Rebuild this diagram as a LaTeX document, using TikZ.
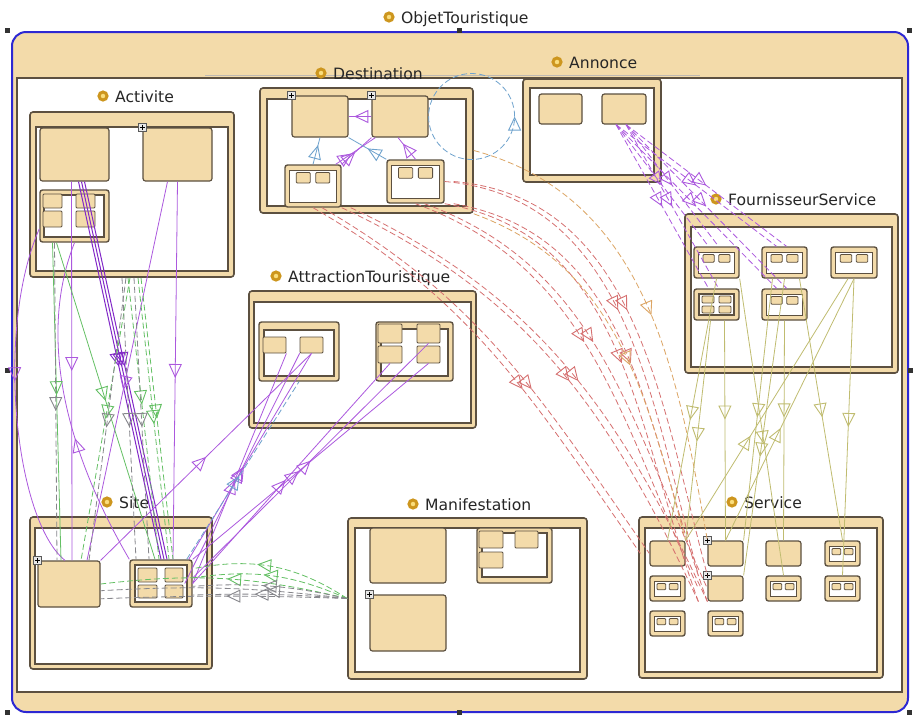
\documentclass[tikz,border=0pt]{standalone}
\usepackage{fontspec}
\setmainfont{DejaVu Sans}
\usetikzlibrary{
	arrows.meta,
	decorations.markings,
	fit
}
\definecolor{Tan}{RGB}{243,219,170}
\definecolor{Edge}{RGB}{92,80,64}
\definecolor{FrameBlue}{RGB}{45,40,210}
\definecolor{Gold}{RGB}{205,150,30}
\definecolor{GoldLt}{RGB}{250,222,125}
\definecolor{Vio}{RGB}{172,88,222}
\definecolor{DarkVio}{RGB}{130,40,200}
\definecolor{Grn}{RGB}{100,192,100}
\definecolor{Gry}{RGB}{135,135,140}
\definecolor{Rd}{RGB}{214,112,112}
\definecolor{Ora}{RGB}{220,165,100}
\definecolor{Oli}{RGB}{192,188,112}
\definecolor{Blu}{RGB}{110,162,205}

\tikzset{
	outer/.style={fill=Tan, draw=FrameBlue, line width=2pt, rounded corners=14pt, inner sep=0pt},
	pkgframe/.style={fill=Tan, draw=Edge, line width=1.6pt, rounded corners=3pt, inner sep=0pt},
	mframe/.style={fill=Tan, draw=Edge, line width=1.4pt, rounded corners=2.5pt, inner sep=0pt},
	pane/.style={fill=white, draw=Edge, line width=1.2pt, inner sep=0pt},
	cls/.style={fill=Tan, draw=Edge, line width=1.2pt, rounded corners=2.5pt, inner sep=0pt},
	slot/.style={fill=Tan, draw=Edge, line width=.8pt, rounded corners=1pt, inner sep=0pt},
	lbl/.style={anchor=base west, inner sep=0pt, text=black!85, font=\fontsize{15.6}{18}\selectfont},
	icon/.style={circle, draw=Gold, line width=3pt, fill=GoldLt, minimum size=8pt, inner sep=0pt},
	plus/.style={draw=black!65, fill=gray!18, line width=.5pt, minimum size=8pt, inner sep=0pt,
		path picture={\draw[black, line width=.7pt]
			([yshift=-1.5pt]path picture bounding box.north) -- ([yshift=1.5pt]path picture bounding box.south)
			([xshift=1.5pt]path picture bounding box.west) -- ([xshift=-1.5pt]path picture bounding box.east);}},
	midtip/.style={postaction={decorate, decoration={markings, mark=at position #1 with
		{\arrow{Triangle[open, length=14pt, width=13pt, line width=.9pt]}}}}},
	dsh/.style={dash pattern=on 6pt off 3pt},
	lnvio/.style={Vio, line width=.8pt},
	lndvio/.style={DarkVio, line width=1pt},
	lngrn/.style={Grn, line width=.8pt},
	lngry/.style={Gry, line width=.8pt},
	lnred/.style={Rd, line width=.8pt},
	lnora/.style={Ora, line width=.8pt},
	lnoli/.style={Oli, line width=.8pt},
	lnblu/.style={Blu, line width=.8pt}
}

% box from corner to corner (pixels, y downwards)
\newcommand{\cbox}[6][cls]{\node[#1, fit={({#3},{#4}) ({#5},{#6})}] (#2) {};}
% package: frame + white pane (top inset, side inset)
\newcommand{\pkg}[7]{%
	\cbox[pkgframe]{#1}{#2}{#3}{#4}{#5}
	\cbox[pane]{#1in}{#2+#7}{#3+#6}{#4-#7}{#5-#7}}
% small nested package with two parts
\newcommand{\minipkg}[5]{%
	\cbox[mframe]{#1}{#2}{#3}{#4}{#5}
	\cbox[pane]{#1in}{#2+4.5}{#3+5.5}{#4-4.5}{#5-4.5}
	\cbox[slot]{#1a}{#2+0.2*(#4-#2)}{#3+7.5}{#2+0.45*(#4-#2)}{#3+7.5+0.25*(#5-#3)}
	\cbox[slot]{#1b}{#2+0.55*(#4-#2)}{#3+7.5}{#2+0.8*(#4-#2)}{#3+7.5+0.25*(#5-#3)}}
% package title with its icon
\newcommand{\plabel}[4]{%
	\node[lbl] (#1) at (#2,#3) {#4};
	\node[icon] (#1i) at ([xshift=-12pt, yshift=6pt]#1.base west) {};}

\begin{document}
\begin{tikzpicture}[x=1pt, y=-1pt]
	\useasboundingbox (0,0) rectangle (913,716);
	
	% ObjetTouristique
	\node[outer, fit={(12,32) (908,712)}] (obj) {};
	\node[pane, fit={(17,78) (902,692)}] (objin) {};
	\draw[Edge!40, line width=.8pt] (205,75) -- (700,75);
	\foreach \x/\y in {7/30, 459/30, 909/30, 7/370, 910/370, 7/712, 459/712, 909/712}
		\fill[black!80] (\x-2.5,\y-2.5) rectangle (\x+2.5,\y+2.5);
	\plabel{lobj}{401}{23}{ObjetTouristique}
	
	% packages
	\pkg{act}{30}{112}{234}{277}{15}{6}
	\pkg{dst}{260}{88}{473}{213}{11}{7}
	\pkg{ann}{523}{79}{661}{182}{9}{7}
	\pkg{fs}{685}{214}{898}{373}{13}{6}
	\pkg{att}{249}{291}{476}{428}{11}{5}
	\pkg{site}{30}{517}{212}{669}{11}{5}
	\pkg{man}{348}{518}{587}{679}{10}{7}
	\pkg{srv}{639}{517}{883}{678}{11}{6}
	
	\plabel{lact}{115}{102}{Activite}
	\plabel{ldst}{333}{79}{Destination}
	\plabel{lann}{569}{68}{Annonce}
	\plabel{lfs}{728}{205}{FournisseurService}
	\plabel{latt}{288}{282}{AttractionTouristique}
	\plabel{lsite}{119}{508}{Site}
	\plabel{lman}{425}{510}{Manifestation}
	\plabel{lsrv}{744}{508}{Service}
	
	% Activite
	\cbox{act1}{40}{128}{109}{181}
	\cbox{act2}{143}{128}{212}{181}
	\cbox[mframe]{act3}{40}{190}{109}{242}
	\cbox[pane]{act3in}{44}{195}{104}{237}
	\cbox[slot]{act3a}{43}{194}{62}{208}
	\cbox[slot]{act3b}{76}{194}{95}{208}
	\cbox[slot]{act3c}{43}{211}{62}{227}
	\cbox[slot]{act3d}{76}{211}{95}{227}
	
	% Destination
	\cbox{dst1}{292}{96}{348}{137}
	\cbox{dst2}{372}{96}{428}{137}
	\minipkg{dst3}{285}{165}{341}{207}
	\minipkg{dst4}{387}{160}{444}{203}
	
	% Annonce
	\cbox{ann1}{539}{94}{582}{124}
	\cbox{ann2}{602}{94}{646}{124}
	
	% FournisseurService
	\minipkg{fs1}{694}{247}{739}{278}
	\minipkg{fs2}{762}{247}{807}{278}
	\minipkg{fs3}{831}{247}{877}{278}
	\cbox[mframe]{fs4}{694}{289}{739}{320}
	\cbox[pane]{fs4in}{699}{294}{734}{315}
	\cbox[slot]{fs4a}{702}{296}{714}{303}
	\cbox[slot]{fs4b}{719}{296}{731}{303}
	\cbox[slot]{fs4c}{702}{306}{714}{313}
	\cbox[slot]{fs4d}{719}{306}{731}{313}
	\minipkg{fs5}{762}{289}{807}{320}
	
	% AttractionTouristique
	\cbox[mframe]{att1}{259}{322}{339}{381}
	\cbox[pane]{att1in}{264}{330}{334}{376}
	\cbox[slot]{att1a}{263}{337}{286}{353}
	\cbox[slot]{att1b}{300}{337}{323}{353}
	\cbox[mframe]{att2}{376}{322}{453}{381}
	\cbox[pane]{att2in}{381}{329}{448}{376}
	\cbox[slot]{att2a}{378}{324}{402}{343}
	\cbox[slot]{att2b}{417}{324}{440}{343}
	\cbox[slot]{att2c}{378}{346}{402}{363}
	\cbox[slot]{att2d}{417}{346}{440}{363}
	
	% Site
	\cbox{site1}{38}{561}{100}{607}
	\cbox[mframe]{site2}{130}{560}{192}{607}
	\cbox[pane]{site2in}{135}{565}{187}{602}
	\cbox[slot]{site2a}{138}{568}{157}{582}
	\cbox[slot]{site2b}{165}{568}{183}{582}
	\cbox[slot]{site2c}{138}{585}{157}{598}
	\cbox[slot]{site2d}{165}{585}{183}{598}
	
	% Manifestation
	\cbox{man1}{370}{528}{446}{583}
	\cbox{man2}{370}{595}{446}{651}
	\cbox[mframe]{man3}{477}{528}{552}{583}
	\cbox[pane]{man3in}{482}{533}{547}{577}
	\cbox[slot]{man3a}{479}{531}{503}{548}
	\cbox[slot]{man3b}{515}{531}{538}{548}
	\cbox[slot]{man3c}{479}{552}{503}{568}
	
	% Service
	\cbox{srv1}{650}{541}{685}{566}
	\cbox{srv2}{708}{541}{743}{566}
	\cbox{srv3}{766}{541}{801}{566}
	\minipkg{srv4}{825}{541}{860}{566}
	\minipkg{srv5}{650}{576}{685}{601}
	\cbox{srv6}{708}{576}{743}{601}
	\minipkg{srv7}{766}{576}{801}{601}
	\minipkg{srv8}{825}{576}{860}{601}
	\minipkg{srv9}{650}{611}{685}{636}
	\minipkg{srv10}{708}{611}{743}{636}
	
	% expand markers
	\node[plus] (pl1) at (act2.north west) {};
	\node[plus] (pl2) at (dst1.north west) {};
	\node[plus] (pl3) at (dst2.north west) {};
	\node[plus] (pl4) at (site1.north west) {};
	\node[plus] (pl5) at (man2.north west) {};
	\node[plus] (pl6) at (srv2.north west) {};
	\node[plus] (pl7) at (srv6.north west) {};
	
	% Destination, inside
	\draw[lnblu, midtip=.72] (dst3.north) -- (dst1.south);
	\draw[lnvio, midtip=.75] (dst2.west) -- (dst1.east);
	\draw[lnvio, midtip=.72] (dst4.north) -- ([xshift=-2pt]dst2.south);
	\draw[lnvio, midtip=.45] (dst3.north east) -- (dst2.south west);
	\draw[lnvio, midtip=.4] ([xshift=-6pt]dst3.north east) -- ([xshift=4pt]dst2.south west);
	\draw[lnblu, midtip=.5] (dst4.north west) -- (dst1.south east);
	\draw[lnblu, dsh, midtip=.5] (dst2.east) arc[start angle=180, delta angle=360, radius=43pt];
	
	% Activite -> Site
	\draw[lnvio, midtip=.45] (act3.200) .. controls (-5,330) and (15,520) .. ([xshift=-4pt]site1.north);
	\draw[lnvio, midtip=.5] ([xshift=-3pt]act1.south) -- ([xshift=3pt]site1.north);
	\foreach \k in {4,7,10}
		\draw[lndvio, midtip=.49] ([xshift=\k pt]act1.south) -- ([xshift=\k pt-4pt]site2.north);
	\draw[lnvio, midtip=.52] (act2.south) -- ([xshift=12pt]site2.north);
	\draw[lnvio, midtip=.55] ([xshift=-10pt]act2.south) -- ([xshift=18pt]site1.north);
	\draw[lnvio, midtip=.4] (site2.north west) .. controls (60,440) and (40,330) .. (act3.south);
	\draw[lngrn, midtip=.48] ([xshift=-22pt]act3.south) -- ([xshift=-8pt]site1.north);
	\draw[lngrn, midtip=.5] ([xshift=-18pt]act3.south) -- ([xshift=-6pt]site2.north);
	\draw[lngrn, dsh, midtip=.5] ([xshift=-2pt]act.south) -- ([xshift=12pt]site1.north);
	\draw[lngrn, dsh, midtip=.45] ([xshift=-4pt]act.south) -- ([xshift=-2pt]site2.north);
	\draw[lngrn, dsh, midtip=.52] ([xshift=6pt]act.south) -- ([xshift=8pt]site2.north);
	\draw[lngrn, dsh, midtip=.5] ([xshift=9pt]act.south) -- ([xshift=12pt]site2.north);
	\draw[lngry, dsh, midtip=.53] ([xshift=-6pt]act.south) -- ([xshift=20pt]site1.north);
	\draw[lngry, dsh, midtip=.53] ([xshift=-10pt]act.south) -- ([xshift=-25pt]site2.north);
	\draw[lngry, dsh, midtip=.53] ([xshift=2pt]act.south) -- ([xshift=-12pt]site2.north);
	\draw[lngry, dsh, midtip=.53] ([xshift=-20pt]act3.south) -- ([xshift=-12pt]site1.north);
	
	% Site -> AttractionTouristique
	\draw[lnvio, midtip=.5] (site1.north east) -- (att1b.south);
	\draw[lnvio, midtip=.45] ([xshift=-4pt]site2.north east) -- (att1b.south);
	\draw[lnvio, midtip=.5] ([xshift=-8pt]site2.east) -- (att1b.south west);
	\draw[lnvio, midtip=.45] (site2.east) -- (att1a.south east);
	\draw[lnvio, midtip=.47] (site2.east) -- (att2c.south);
	\draw[lnvio, midtip=.45] (site2.north east) -- (att2d.south);
	\draw[lnvio, midtip=.5] (site2.10) -- (att2b.south);
	\draw[lnblu, dsh, midtip=.47] ([xshift=-6pt]site2.north east) -- (att1.south);
	
	% Manifestation -> Site
	\foreach \e/\b/\p in {site2.25/22/.6, site2.10/16/.55, site1.east/10/.49}
		\draw[lngrn, dsh, midtip=\p] (man.west) to[bend right=\b] (\e);
	\foreach \e/\b/\p in {site2.-5/8/.55, site2.-20/3/.6, site1.-12/5/.33, site1.-25/2/.49}
		\draw[lngry, dsh, midtip=\p] (man.west) to[bend right=\b] (\e);
	
	% Destination -> Service
	\foreach \s/\e/\o/\i/\p in {dst3.south/srv1.west/-30/125/.58,
			dst3.south east/srv6.south west/-25/115/.53,
			dst4.south/srv6.west/-20/115/.45,
			dst4.south east/srv6.south west/-10/110/.5,
			dst4.east/srv6.north west/-5/105/.45}
		\foreach \k in {0,9}
			\draw[lnred, dsh, midtip=\p] ([xshift=\k pt]\s) to[out=\o, in=\i] ([xshift=\k pt-9pt]\e);
	\draw[lnora, dsh, midtip=.52] (dst.east) to[out=-15, in=100] (srv2.north west);
	\draw[lnora, dsh, midtip=.55] (dst.south east) to[out=-20, in=105] (srv1.north east);
	
	% Annonce -> FournisseurService
	\foreach \t in {fs1, fs4, fs2, fs5}
		\foreach \k in {-8,2}
			\draw[lnvio, dsh, midtip=.5] ([xshift=\k pt]ann2.south) -- ([xshift=\k pt]\t.north);
	
	% FournisseurService -> Service
	\draw[lnoli, midtip=.54] (fs1.south) -- (srv1.north);
	\draw[lnoli, midtip=.55] ([xshift=-6pt]fs4.south) -- (srv1.north east);
	\draw[lnoli, midtip=.45] ([xshift=8pt]fs4.south) -- (srv2.north);
	\draw[lnoli, midtip=.53] ([xshift=-12pt]fs2.south) -- (srv2.north east);
	\draw[lnoli, midtip=.44] (fs5.south) -- (srv3.north);
	\draw[lnoli, midtip=.53] ([xshift=15pt]fs2.south) -- (srv4.north);
	\draw[lnoli, midtip=.43] (srv2.north) -- (fs3.south);
	\draw[lnoli, midtip=.4] (srv1.north east) -- ([xshift=-6pt]fs3.south);
	\draw[lnoli, midtip=.56] (fs1.south east) -- (srv7.north);
	\draw[lnoli, midtip=.6] (fs2.south) -- (srv6.north east);
	\draw[lnoli, midtip=.5] (fs3.south) -- (srv8.north);
	
\end{tikzpicture}
\end{document}
